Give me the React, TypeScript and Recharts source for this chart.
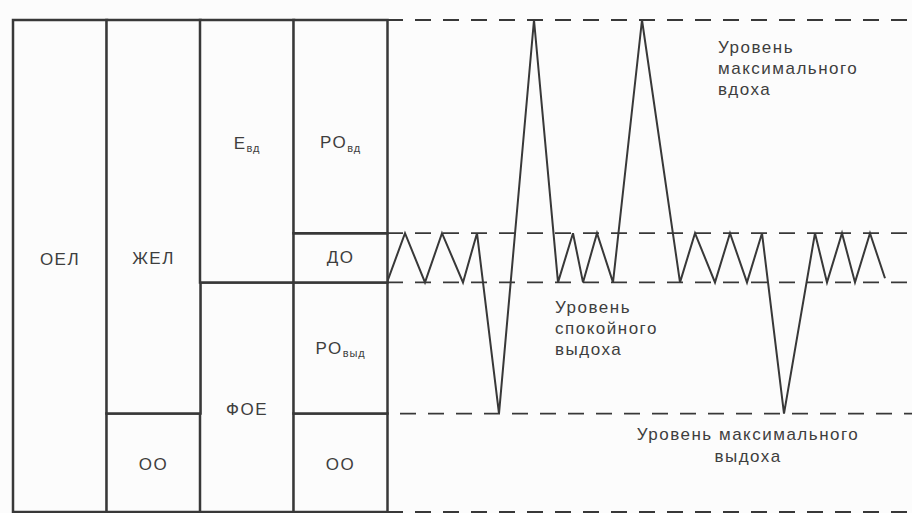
import React from "react";
import {
  BarChart,
  Bar,
  LineChart,
  Line,
  XAxis,
  YAxis,
  ReferenceLine,
  LabelList,
} from "recharts";

// lung volume columns (litres), bottom segment first
const columns = ["col1", "col2", "col3", "col4"];
const seg1 = [6.0, 1.2, 2.8, 1.2];
const seg2 = [null, 4.8, 3.2, 1.6];
const seg3 = [null, null, null, 0.6];
const seg4 = [null, null, null, 2.6];
const seg1Labels = ["ОЕЛ", "ОО", "ФОЕ", "ОО"];
const seg2Labels = ["", "ЖЕЛ", "Е|вд", "РО|выд"];
const seg3Labels = ["", "", "", "ДО"];
const seg4Labels = ["", "", "", "РО|вд"];

// spirogram trace: time (s) and volume (l)
const traceTime = [
  0, 0.9, 1.9, 2.75, 3.8, 4.5, 5.6, 7.35, 8.55, 9.3, 9.8, 10.5, 11.3, 12.75,
  14.65, 15.4, 16.4, 17.15, 18.0, 18.75, 19.85, 21.4, 22.0, 22.75, 23.4, 24.15,
  24.9,
];
const traceVolume = [
  2.8, 3.4, 2.8, 3.4, 2.8, 3.4, 1.2, 6.0, 2.8, 3.4, 2.8, 3.4, 2.8, 6.0, 2.8,
  3.4, 2.8, 3.4, 2.8, 3.4, 1.2, 3.4, 2.8, 3.4, 2.8, 3.4, 2.85,
];

// levels: max inhale, end of quiet inhale, end of quiet exhale, max exhale, zero
const levels = [6.0, 3.4, 2.8, 1.2, 0];
const maxExhaleStart = 0.65;

const barData = columns.map((name, i) => ({
  name,
  s1: seg1[i],
  s2: seg2[i],
  s3: seg3[i],
  s4: seg4[i],
  l1: seg1Labels[i],
  l2: seg2Labels[i],
  l3: seg3Labels[i],
  l4: seg4Labels[i],
}));

const traceData = traceTime.map((t, i) => ({ t, v: traceVolume[i] }));

const INK = "#383838";
const TEXT = "#3e3e3e";
const FONT = "'Liberation Sans', Arial, sans-serif";

const LABEL_DY: Record<string, number> = {
  "ОЕЛ": -7,
  "ЖЕЛ": 42,
  "Е|вд": -8,
  "РО|вд": 16,
  "ФОЕ": 12,
  "ОО": 2,
};

function SegmentLabel(props: any) {
  const { x, y, width, height, value } = props;
  if (!value) return null;
  const [main, sub] = String(value).split("|");
  const cx = Number(x) + Number(width) / 2;
  const cy = Number(y) + Number(height) / 2 + (LABEL_DY[value] ?? 0);
  return (
    <text
      x={cx}
      y={cy}
      textAnchor="middle"
      dominantBaseline="central"
      fontFamily={FONT}
      fontSize={17}
      letterSpacing={1.5}
      fill={TEXT}
    >
      {main}
      {sub && (
        <tspan fontSize={11} dy={5} letterSpacing={0.8}>
          {sub}
        </tspan>
      )}
    </text>
  );
}

const noteStyle: React.CSSProperties = {
  position: "absolute",
  fontFamily: FONT,
  fontSize: 17,
  letterSpacing: 1.5,
  lineHeight: "21px",
  color: TEXT,
  whiteSpace: "nowrap",
};

export default function App() {
  const segs = [
    ["s1", "l1"],
    ["s2", "l2"],
    ["s3", "l3"],
    ["s4", "l4"],
  ];
  return (
    <div
      style={{
        position: "absolute",
        left: 0,
        top: 0,
        width: 912,
        height: 513,
        background: "#fcfcfc",
        overflow: "hidden",
      }}
    >
      <div style={{ position: "absolute", left: 0, top: 0 }}>
        <BarChart
          width={400}
          height={513}
          data={barData}
          margin={{ top: 20, right: 13, bottom: 1, left: 13 }}
          barCategoryGap={0}
        >
          <XAxis dataKey="name" hide />
          <YAxis domain={[0, 6]} hide />
          {segs.map(([key, label]) => (
            <Bar
              key={key}
              dataKey={key}
              stackId="lung"
              fill="#fcfcfc"
              stroke={INK}
              strokeWidth={2.5}
              isAnimationActive={false}
            >
              <LabelList dataKey={label} content={SegmentLabel} />
            </Bar>
          ))}
        </BarChart>
      </div>
      <div style={{ position: "absolute", left: 387, top: 0 }}>
        <LineChart
          width={525}
          height={513}
          data={traceData}
          margin={{ top: 20, right: 0, bottom: 1, left: 0 }}
        >
          <XAxis dataKey="t" type="number" domain={[0, 26.25]} hide />
          <YAxis domain={[0, 6]} hide />
          {levels.map((lv) =>
            lv === 1.2 ? (
              <ReferenceLine
                key={lv}
                segment={[
                  { x: maxExhaleStart, y: lv },
                  { x: 26.25, y: lv },
                ]}
                stroke={INK}
                strokeWidth={1.8}
                strokeDasharray="16 12"
              />
            ) : (
              <ReferenceLine
                key={lv}
                y={lv}
                stroke={INK}
                strokeWidth={1.8}
                strokeDasharray="16 12"
              />
            )
          )}
          <Line
            type="linear"
            dataKey="v"
            stroke={INK}
            strokeWidth={2}
            dot={false}
            isAnimationActive={false}
          />
        </LineChart>
      </div>
      <div style={{ ...noteStyle, left: 718, top: 37 }}>
        Уровень
        <br />
        максимального
        <br />
        вдоха
      </div>
      <div style={{ ...noteStyle, left: 555, top: 297 }}>
        Уровень
        <br />
        спокойного
        <br />
        выдоха
      </div>
      <div
        style={{
          ...noteStyle,
          left: 598,
          width: 300,
          top: 424,
          lineHeight: "22px",
          textAlign: "center",
        }}
      >
        Уровень максимального
        <br />
        выдоха
      </div>
    </div>
  );
}
